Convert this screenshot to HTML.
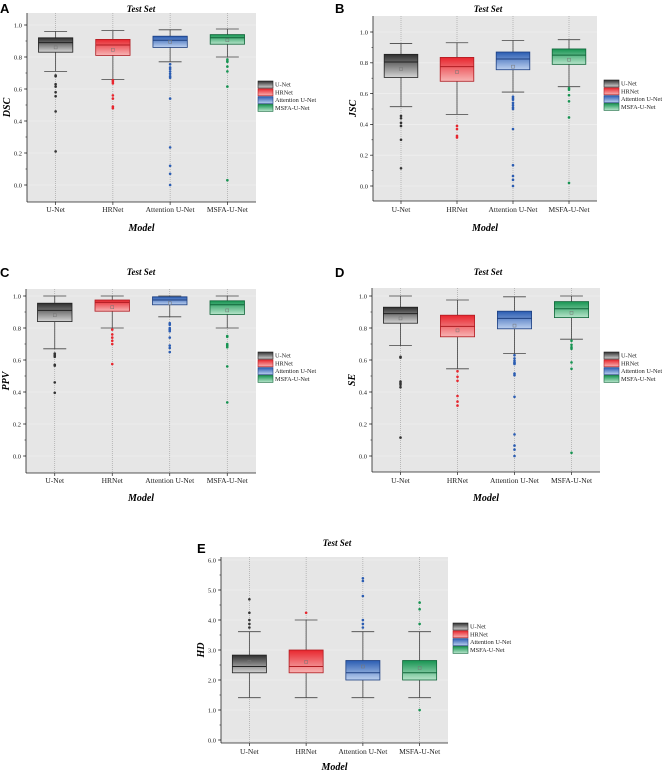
<!DOCTYPE html>
<html><head><meta charset="utf-8"><style>
html,body{margin:0;padding:0;background:#fff;}
svg{display:block;font-family:"Liberation Serif",serif;}
</style></head><body>
<svg id="fig" width="662" height="772" viewBox="0 0 662 772" xmlns="http://www.w3.org/2000/svg">
<defs>
<linearGradient id="g0" x1="0" y1="0" x2="0" y2="1"><stop offset="0" stop-color="#2e2e2e"/><stop offset="1" stop-color="#d4d4d4"/></linearGradient>
<linearGradient id="g1" x1="0" y1="0" x2="0" y2="1"><stop offset="0" stop-color="#e8262e"/><stop offset="1" stop-color="#f7b4b4"/></linearGradient>
<linearGradient id="g2" x1="0" y1="0" x2="0" y2="1"><stop offset="0" stop-color="#2a5cb2"/><stop offset="1" stop-color="#bcd0ef"/></linearGradient>
<linearGradient id="g3" x1="0" y1="0" x2="0" y2="1"><stop offset="0" stop-color="#179452"/><stop offset="1" stop-color="#b6e4ca"/></linearGradient>
</defs>
</svg>
<script>
const models = ["U-Net","HRNet","Attention U-Net","MSFA-U-Net"];
// stats per model: [lowWhisker, q1, median, q3, highWhisker, mean]
const dscBoxes = [[0.71,0.83,0.89,0.92,0.96,0.86],[0.66,0.81,0.875,0.91,0.965,0.845],[0.77,0.86,0.905,0.93,0.97,0.895],[0.80,0.88,0.92,0.94,0.975,0.905]];
const dscOutliers = [[0.685,0.68,0.63,0.615,0.58,0.555,0.46,0.21],[0.655,0.645,0.635,0.56,0.54,0.49,0.48],[0.755,0.735,0.725,0.71,0.695,0.68,0.67,0.54,0.235,0.12,0.07,0.0],[0.785,0.775,0.77,0.74,0.71,0.615,0.03]];
const jscBoxes = [[0.515,0.705,0.805,0.855,0.925,0.76],[0.465,0.68,0.775,0.835,0.93,0.74],[0.61,0.755,0.825,0.87,0.945,0.775],[0.645,0.79,0.85,0.89,0.95,0.82]];
const jscOutliers = [[0.455,0.44,0.41,0.39,0.30,0.115],[0.39,0.37,0.325,0.315],[0.58,0.57,0.56,0.54,0.525,0.51,0.50,0.37,0.135,0.065,0.04,0.0],[0.635,0.625,0.59,0.55,0.445,0.02]];
const ppvBoxes = [[0.67,0.84,0.91,0.955,1.0,0.88],[0.80,0.905,0.96,0.975,1.0,0.93],[0.87,0.945,0.975,0.995,1.0,0.955],[0.80,0.885,0.945,0.97,1.0,0.91]];
const ppvOutliers = [[0.64,0.63,0.62,0.57,0.565,0.46,0.395],[0.79,0.76,0.74,0.72,0.70,0.575],[0.83,0.82,0.80,0.79,0.78,0.74,0.69,0.675,0.65],[0.75,0.745,0.70,0.69,0.68,0.56,0.335]];
const seBoxes = [[0.69,0.83,0.89,0.93,1.0,0.86],[0.545,0.745,0.81,0.88,0.975,0.785],[0.64,0.795,0.86,0.905,0.995,0.815],[0.73,0.865,0.92,0.965,1.0,0.895]];
const seOutliers = [[0.62,0.615,0.465,0.455,0.445,0.43,0.115],[0.53,0.495,0.47,0.375,0.34,0.315],[0.63,0.61,0.595,0.585,0.58,0.575,0.515,0.505,0.37,0.135,0.065,0.04,0.0],[0.72,0.695,0.68,0.67,0.585,0.545,0.02]];
const hdBoxes = [[1.41,2.24,2.45,2.83,3.61,2.6],[1.41,2.24,2.45,3.0,4.0,2.6],[1.41,2.0,2.24,2.65,3.61,2.45],[1.41,2.0,2.24,2.65,3.61,2.4]];
const hdOutliers = [[3.75,3.87,4.0,4.24,4.69],[4.24],[3.75,3.87,4.0,4.8,5.3,5.39],[3.87,4.36,4.58,1.0]];
const ratioTicks = [0.0,0.2,0.4,0.6,0.8,1.0];
const hdTicks = [0,1,2,3,4,5,6];

const colors = ["#333333","#e8262e","#2a5cb2","#179452"];
const borders = ["#222","#b01c22","#1d3f80","#11663a"];
const NS = "http://www.w3.org/2000/svg";
const svg = document.getElementById("fig");
function el(tag, attrs, parent, text){
  const e = document.createElementNS(NS, tag);
  for (const k in attrs) e.setAttribute(k, attrs[k]);
  if (text !== undefined) e.textContent = text;
  (parent||svg).appendChild(e);
  return e;
}

const panels = [
 {key:"a",letter:"A",ylab:"DSC",boxes:dscBoxes,out:dscOutliers,ticks:ratioTicks,dec:1,minor:0.1,
  L:27,R:256,T:13,B:202,v0:0,p0:185,v1:1,p1:25,lx:258,ly:81,tx:141,ty:18,letX:0,letY:13,xlY:212,mY:231},
 {key:"b",letter:"B",ylab:"JSC",boxes:jscBoxes,out:jscOutliers,ticks:ratioTicks,dec:1,minor:0.1,
  L:373,R:597,T:16,B:201,v0:0,p0:186,v1:1,p1:32,lx:604,ly:80,tx:488,ty:18,letX:335,letY:13,xlY:212,mY:231},
 {key:"c",letter:"C",ylab:"PPV",boxes:ppvBoxes,out:ppvOutliers,ticks:ratioTicks,dec:1,minor:0.1,
  L:26,R:256,T:289,B:473,v0:0,p0:456,v1:1,p1:296,lx:258,ly:352,tx:141,ty:281,letX:0,letY:277,xlY:483,mY:501},
 {key:"d",letter:"D",ylab:"SE",boxes:seBoxes,out:seOutliers,ticks:ratioTicks,dec:1,minor:0.1,
  L:372,R:600,T:288,B:472,v0:0,p0:456,v1:1,p1:296,lx:604,ly:352,tx:488,ty:281,letX:335,letY:277,xlY:483,mY:501},
 {key:"e",letter:"E",ylab:"HD",boxes:hdBoxes,out:hdOutliers,ticks:hdTicks,dec:1,minor:0.5,
  L:221,R:448,T:557,B:743,v0:0,p0:740,v1:6,p1:560,lx:453,ly:623,tx:337,ty:552,letX:197,letY:553,xlY:754,mY:770}
];

panels.forEach(P=>{
  const g = el("g",{});
  
  
  const y = v => P.p0 + (v-P.v0)*(P.p1-P.p0)/(P.v1-P.v0);
  const sp = (P.R-P.L)/4;
  const x = i => P.L + sp*(i+0.5);
  const bw = sp*0.6;
  // background
  const bg = el("rect",{x:P.L,y:P.T,width:P.R-P.L,height:P.B-P.T,fill:"#e6e6e6"},g);
  
  
  // horizontal light grid
  P.ticks.forEach(t=>{ el("line",{x1:P.L,x2:P.R,y1:y(t),y2:y(t),stroke:"#f2f2f2","stroke-width":0.6},g); });
  // vertical dotted lines
  models.forEach((m,i)=>{ el("line",{x1:x(i),x2:x(i),y1:P.T,y2:P.B,stroke:"#9a9a9a","stroke-width":0.6,"stroke-dasharray":"1,1"},g); });
  // boxes
  P.boxes.forEach((s,i)=>{
    const bg2 = el("g",{},g);
    
    
    const cx = x(i);
    el("line",{x1:cx,x2:cx,y1:y(s[4]),y2:y(s[3]),stroke:"#444","stroke-width":0.8},bg2);
    el("line",{x1:cx,x2:cx,y1:y(s[1]),y2:y(s[0]),stroke:"#444","stroke-width":0.8},bg2);
    el("line",{x1:cx-bw/3,x2:cx+bw/3,y1:y(s[4]),y2:y(s[4]),stroke:"#444","stroke-width":0.8},bg2);
    el("line",{x1:cx-bw/3,x2:cx+bw/3,y1:y(s[0]),y2:y(s[0]),stroke:"#444","stroke-width":0.8},bg2);
    el("rect",{x:cx-bw/2,y:y(s[3]),width:bw,height:y(s[1])-y(s[3]),fill:"url(#g"+i+")",stroke:borders[i],"stroke-width":0.8},bg2);
    el("line",{x1:cx-bw/2,x2:cx+bw/2,y1:y(s[2]),y2:y(s[2]),stroke:borders[i],"stroke-width":1},bg2);
    el("rect",{x:cx-1.5,y:y(s[5])-1.5,width:3,height:3,fill:"none",stroke:"#777","stroke-width":0.5},bg2);
    P.out[i].forEach(v=>{
      const c = el("circle",{cx:cx,cy:y(v),r:1.3,fill:colors[i]},bg2);
      
      
    });
  });
  // axes
  el("line",{x1:P.L,x2:P.L,y1:P.T,y2:P.B,stroke:"#222","stroke-width":0.8},g);
  el("line",{x1:P.L,x2:P.R,y1:P.B,y2:P.B,stroke:"#222","stroke-width":0.8},g);
  const lo = P.ticks[0], hi = P.ticks[P.ticks.length-1];
  for (let v=lo; v<=hi+1e-9; v+=P.minor){
    el("line",{x1:P.L-1.5,x2:P.L,y1:y(v),y2:y(v),stroke:"#222","stroke-width":0.6},g);
  }
  P.ticks.forEach(t=>{
    el("line",{x1:P.L-3,x2:P.L,y1:y(t),y2:y(t),stroke:"#222","stroke-width":0.7},g);
    const tl = el("text",{x:P.L-5,y:y(t)+2.3,"font-size":6.5,"text-anchor":"end",fill:"#222"},g,t.toFixed(P.dec));
    
    
  });
  models.forEach((m,i)=>{
    el("line",{x1:x(i),x2:x(i),y1:P.B,y2:P.B+3,stroke:"#222","stroke-width":0.7},g);
    const xl = el("text",{x:x(i),y:P.xlY,"font-size":7.5,"text-anchor":"middle",fill:"#222"},g,m);
    
    
  });
  const ttl = el("text",{x:P.tx,y:P.ty-6,"font-size":9,"font-weight":"bold","font-style":"italic","text-anchor":"middle"},g,"Test Set");
  
  
  const let_ = el("text",{x:P.letX,y:P.letY,"font-size":13,"font-weight":"bold","font-family":"Liberation Sans, sans-serif"},g,P.letter);
  
  
  const cy = (P.T+P.B)/2;
  const yt = el("text",{x:0,y:0,"font-size":10,"font-weight":"bold","font-style":"italic","text-anchor":"middle",transform:"translate("+(P.L-17)+","+cy+") rotate(-90)"},g,P.ylab);
  
  
  const xt = el("text",{x:(P.L+P.R)/2,y:P.mY,"font-size":10,"font-weight":"bold","font-style":"italic","text-anchor":"middle"},g,"Model");
  
  
  // legend
  const lg = el("g",{},g);
  
  
  models.forEach((m,i)=>{
    const ly = P.ly + i*7.8;
    const e = el("g",{},lg);
    
    
    el("rect",{x:P.lx,y:ly,width:15,height:7,fill:"url(#g"+i+")",stroke:borders[i],"stroke-width":0.6},e);
    el("text",{x:P.lx+17,y:ly+5.6,"font-size":6.3,fill:"#222"},e,m);
  });
});
</script>
</body></html>
